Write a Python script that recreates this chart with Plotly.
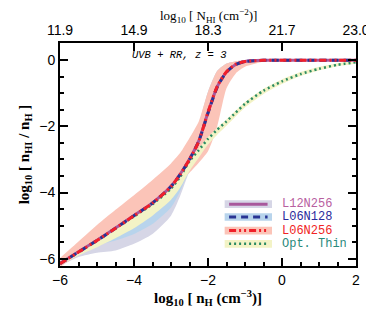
import plotly.graph_objects as go

# ---- data ----
log_nH = [-6, -5.5, -5, -4.5, -4, -3.5, -3, -2.75, -2.5, -2.25, -2, -1.75, -1.5, -1.25, -1, -0.5, 0, 0.5, 1, 1.5, 2]

L12N256 = [-6.14, -5.79, -5.44, -5.07, -4.69, -4.31, -3.81, -3.44, -2.99, -2.44, -1.58, -0.80, -0.36, -0.13, -0.04, -0.005, 0, 0, 0, 0, 0]
L06N128 = [-6.15, -5.80, -5.45, -5.08, -4.70, -4.32, -3.82, -3.45, -3.00, -2.45, -1.60, -0.81, -0.36, -0.13, -0.04, -0.005, 0, 0, 0, 0, 0]
L06N256 = [-6.15, -5.80, -5.45, -5.08, -4.70, -4.32, -3.82, -3.45, -3.00, -2.46, -1.57, -0.79, -0.35, -0.12, -0.04, -0.005, 0, 0, 0, 0, 0]
OptThin = [-6.15, -5.80, -5.45, -5.08, -4.72, -4.35, -3.88, -3.52, -3.05, -2.72, -2.38, -2.10, -1.85, -1.58, -1.32, -0.92, -0.64, -0.42, -0.26, -0.14, -0.06]

L12N256_hi = [-6.08, -5.74, -5.39, -5.02, -4.64, -4.26, -3.76, -3.39, -2.94, -2.38, -1.50, -0.72, -0.30, -0.10, -0.02, 0, 0, 0, 0, 0, 0]
L12N256_lo = [-6.22, -5.95, -5.82, -5.75, -5.55, -5.25, -4.70, -4.10, -3.35, -2.80, -2.20, -1.40, -0.65, -0.28, -0.10, -0.02, 0, 0, 0, 0, 0]
L06N128_hi = [-6.08, -5.74, -5.39, -5.02, -4.64, -4.26, -3.76, -3.35, -2.80, -1.95, -0.95, -0.32, -0.10, -0.03, 0, 0, 0, 0, 0, 0, 0]
L06N128_lo = [-6.20, -5.90, -5.60, -5.45, -5.25, -4.95, -4.45, -3.95, -3.30, -2.80, -2.20, -1.50, -0.65, -0.28, -0.10, -0.02, 0, 0, 0, 0, 0]
L06N256_hi = [-5.98, -5.48, -4.98, -4.52, -4.08, -3.62, -3.12, -2.80, -2.35, -1.85, -0.95, -0.32, -0.10, -0.03, 0, 0, 0, 0, 0, 0, 0]
L06N256_lo = [-6.25, -5.88, -5.52, -5.15, -4.78, -4.42, -3.95, -3.65, -3.40, -3.10, -2.75, -2.00, -0.85, -0.40, -0.20, -0.05, 0, 0, 0, 0, 0]
OptThin_hi = [-6.08, -5.74, -5.39, -5.02, -4.66, -4.29, -3.82, -3.46, -2.99, -2.66, -2.32, -2.04, -1.79, -1.52, -1.26, -0.86, -0.58, -0.36, -0.20, -0.09, -0.02]
OptThin_lo = [-6.20, -5.90, -5.65, -5.38, -5.08, -4.70, -4.22, -3.85, -3.35, -2.95, -2.55, -2.25, -1.98, -1.70, -1.43, -1.02, -0.72, -0.48, -0.31, -0.18, -0.09]

top_tick_vals = [-6, -4, -2, 0, 2]
top_tick_text = ["11.9", "14.9", "18.3", "21.7", "23.0"]
bottom_tick_vals = [-6, -4, -2, 0, 2]
y_tick_vals = [-6, -4, -2, 0]

series_names = ["L12N256", "L06N128", "L06N256", "Opt. Thin"]

# ---- styles ----
band_col = {"L12N256": "#d6d6e6", "L06N128": "#b8d4ec", "L06N256": "#fbc4b8", "Opt. Thin": "#f3f3c6"}
line_col = {"L12N256": "#a8589c", "L06N128": "#283494", "L06N256": "#f0202a", "Opt. Thin": "#2a8a62"}
text_col = {"L12N256": "#b8609f", "L06N128": "#2a2a9c", "L06N256": "#f02424", "Opt. Thin": "#2a8a7c"}
line_dash = {"L12N256": "solid", "L06N128": "7px,5px", "L06N256": "7px,3px,2px,3px,2px,3px", "Opt. Thin": "2px,3px"}
line_w = {"L12N256": 3, "L06N128": 3, "L06N256": 3, "Opt. Thin": 2.5}

fig = go.Figure()

def band(lo, hi, name):
    fig.add_trace(go.Scatter(
        x=log_nH + log_nH[::-1], y=hi + lo[::-1], fill="toself",
        fillcolor=band_col[name], line=dict(width=0, shape="spline", smoothing=0.6), mode="lines",
        showlegend=False, hoverinfo="skip"))

band(L12N256_lo, L12N256_hi, "L12N256")
band(L06N128_lo, L06N128_hi, "L06N128")
band(L06N256_lo, L06N256_hi, "L06N256")
band(OptThin_lo, OptThin_hi, "Opt. Thin")

for name, ys in [("Opt. Thin", OptThin), ("L12N256", L12N256), ("L06N128", L06N128), ("L06N256", L06N256)]:
    fig.add_trace(go.Scatter(x=log_nH, y=ys, mode="lines", name=name,
                             line=dict(color=line_col[name], width=line_w[name], dash=line_dash[name],
                                       shape="spline", smoothing=0.6),
                             showlegend=False))

# invisible trace to carry the top axis
fig.add_trace(go.Scatter(x=log_nH, y=L06N256, xaxis="x2", mode="lines",
                         line=dict(width=0), opacity=0, showlegend=False, hoverinfo="skip"))

# ---- manual legend (sample boxes + labels) ----
leg_x0, leg_x1 = -1.55, -0.27
leg_rows = [-4.35, -4.74, -5.15, -5.55]
half_h = 0.115
for name, yc in zip(series_names, leg_rows):
    fig.add_shape(type="rect", x0=leg_x0, x1=leg_x1, y0=yc - half_h, y1=yc + half_h,
                  xref="x", yref="y", fillcolor=band_col[name], line=dict(width=0))
    fig.add_shape(type="line", x0=leg_x0 + 0.12, x1=leg_x1 - 0.12, y0=yc, y1=yc,
                  xref="x", yref="y",
                  line=dict(color=line_col[name], width=line_w[name], dash=line_dash[name]))
    fig.add_annotation(x=leg_x1 + 0.22, y=yc, xref="x", yref="y", text=name,
                       showarrow=False, xanchor="left", yanchor="middle", height=12,
                       font=dict(family="Liberation Mono", size=12, color=text_col[name]))

fig.add_annotation(x=0.405, y=0.945, xref="paper", yref="paper",
                   text="<i>UVB + RR, z = 3</i>", showarrow=False,
                   xanchor="center", yanchor="middle",
                   font=dict(family="Liberation Mono", size=10.5, color="black"))

# top-axis title placed as annotation so it can sit close to the upper edge
fig.add_annotation(x=0.5, y=1.172, xref="paper", yref="paper",
                   text="log<sub>10</sub> [ N<sub>HI</sub> (cm<sup>−2</sup>)]", showarrow=False,
                   xanchor="center", yanchor="top",
                   font=dict(family="Liberation Serif", size=13, color="black"))

axis_common = dict(showgrid=False, zeroline=False, showline=True, linecolor="black",
                   linewidth=2, ticks="inside", tickcolor="black", tickwidth=1.5,
                   automargin=False,
                   tickfont=dict(family="Liberation Sans", size=14, color="black"))

# the page places the figure 8 px in from the top-left corner; margins compensate
fig.update_layout(
    width=374, height=311,
    margin=dict(l=52, r=26, t=35, b=53),
    paper_bgcolor="white", plot_bgcolor="white",
    showlegend=False,
    xaxis=dict(range=[-6, 2], tickvals=bottom_tick_vals, ticklen=8,
               minor=dict(dtick=0.5, ticks="inside", ticklen=4, tickcolor="black", tickwidth=1.5),
               title=dict(text="<b>log<sub>10</sub> [ n<sub>H</sub> (cm<sup>−3</sup>)]</b>",
                          font=dict(family="Liberation Serif", size=15, color="black"), standoff=2),
               **axis_common),
    xaxis2=dict(range=[-6, 2], overlaying="x", side="top", anchor="y",
                tickvals=top_tick_vals, ticktext=top_tick_text, ticklen=8,
                **axis_common),
    yaxis=dict(range=[-6.22, 0.52], tickvals=y_tick_vals, ticklen=8, mirror="ticks",
               minor=dict(dtick=0.5, ticks="inside", ticklen=4, tickcolor="black", tickwidth=1.5),
               title=dict(text="<b>log<sub>10</sub> [ n<sub>HI</sub> / n<sub>H</sub> ]</b>",
                          font=dict(family="Liberation Serif", size=15, color="black"), standoff=6),
               **axis_common),
)

fig.write_html("out.html")
